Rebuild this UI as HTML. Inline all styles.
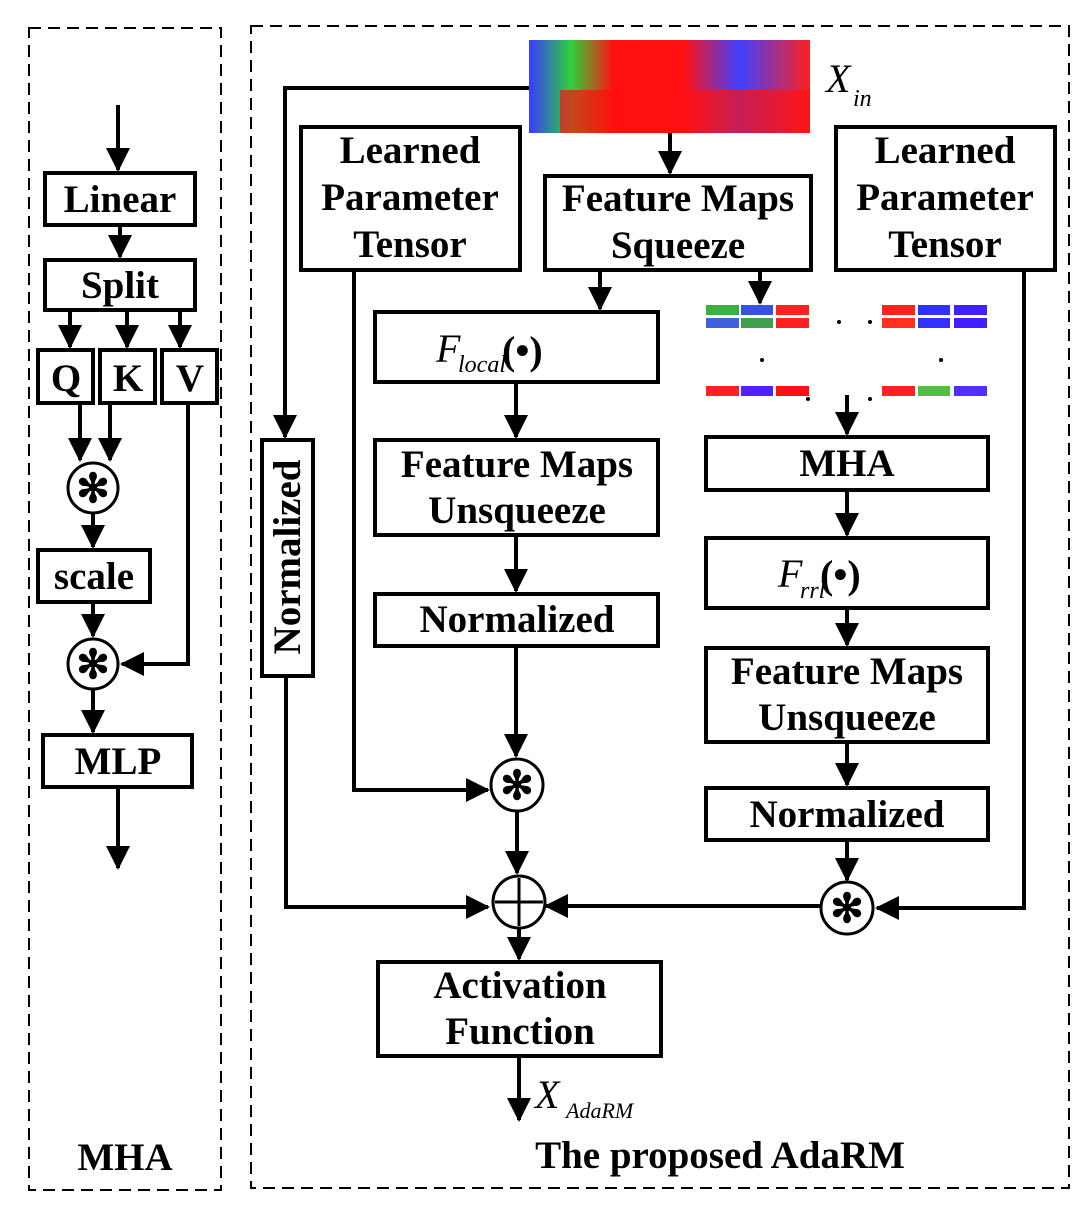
<!DOCTYPE html>
<html><head><style>body{margin:0;background:#fff}svg{display:block}text{font-family:"Liberation Serif",serif;font-weight:bold;fill:#000}</style></head><body>
<svg width="1087" height="1205" viewBox="0 0 1087 1205" xmlns="http://www.w3.org/2000/svg">
<defs>
<marker id="a" markerWidth="6" markerHeight="6" refX="5.5" refY="3" orient="auto" markerUnits="strokeWidth"><path d="M0,0 L6,3 L0,6 z" fill="#000"/></marker>
<linearGradient id="g1" x1="0" y1="0" x2="1" y2="0"><stop offset="0" stop-color="#3a3aff"/><stop offset="0.15" stop-color="#2fd03a"/><stop offset="0.3" stop-color="#ff1010"/><stop offset="0.55" stop-color="#ff1010"/><stop offset="0.75" stop-color="#4040ff"/><stop offset="1" stop-color="#ff2020"/></linearGradient>
</defs>
<g fill="none" stroke="#000" stroke-width="2" stroke-dasharray="12,7">
<rect x="29" y="28" width="192" height="1162"/>
<rect x="251" y="26" width="818" height="1162"/>
</g>
<g fill="#fff" stroke="#000" stroke-width="4">
<rect x="45" y="173" width="150" height="52"/>
<rect x="45" y="260" width="150" height="50"/>
<rect x="38" y="350" width="55" height="53"/>
<rect x="100" y="350" width="55" height="53"/>
<rect x="162" y="350" width="55" height="53"/>
<rect x="38" y="550" width="112" height="52"/>
<rect x="43" y="735" width="149" height="52"/>
<rect x="301" y="127" width="219" height="143"/>
<rect x="836" y="127" width="219" height="143"/>
<rect x="545" y="176" width="266" height="94"/>
<rect x="375" y="312" width="283" height="70"/>
<rect x="375" y="440" width="283" height="95"/>
<rect x="375" y="594" width="283" height="52"/>
<rect x="262" y="440" width="51" height="236"/>
<rect x="706" y="437" width="282" height="53"/>
<rect x="706" y="538" width="282" height="70"/>
<rect x="706" y="648" width="282" height="94"/>
<rect x="706" y="788" width="282" height="52"/>
<rect x="378" y="962" width="283" height="94"/>
</g>
<rect x="529" y="40" width="281" height="93" fill="url(#g1)"/>
<rect x="560" y="90" width="250" height="43" fill="#ff1010" opacity="0.7"/>
<g>
<rect x="706" y="305" width="33" height="10" fill="#3ab040"/><rect x="741" y="305" width="32" height="10" fill="#3a50e0"/><rect x="776" y="305" width="33" height="10" fill="#ff2020"/>
<rect x="706" y="318" width="33" height="10" fill="#4060e0"/><rect x="741" y="318" width="32" height="10" fill="#40a050"/><rect x="776" y="318" width="33" height="10" fill="#ff2020"/>
<rect x="882" y="305" width="33" height="10" fill="#ff2020"/><rect x="918" y="305" width="32" height="10" fill="#3030ff"/><rect x="954" y="305" width="33" height="10" fill="#4020ff"/>
<rect x="882" y="318" width="33" height="10" fill="#ff3020"/><rect x="918" y="318" width="32" height="10" fill="#3030ff"/><rect x="954" y="318" width="33" height="10" fill="#4020ff"/>
<rect x="706" y="386" width="33" height="10" fill="#ff2020"/><rect x="741" y="386" width="32" height="10" fill="#5020ff"/><rect x="776" y="386" width="33" height="10" fill="#ff1010"/>
<rect x="882" y="386" width="33" height="10" fill="#ff2020"/><rect x="918" y="386" width="32" height="10" fill="#50c040"/><rect x="954" y="386" width="33" height="10" fill="#5030ff"/>
</g>
<g fill="#000"><circle cx="839" cy="322" r="2"/><circle cx="870" cy="322" r="2"/><circle cx="762" cy="360" r="2"/><circle cx="941" cy="360" r="2"/><circle cx="808" cy="399" r="2"/><circle cx="870" cy="399" r="2"/></g>
<g fill="none" stroke="#000" stroke-width="4" marker-end="url(#a)">
<line x1="118" y1="105" x2="118" y2="170"/>
<line x1="120" y1="225" x2="120" y2="257"/>
<line x1="70" y1="310" x2="70" y2="347"/>
<line x1="127" y1="310" x2="127" y2="347"/>
<line x1="180" y1="310" x2="180" y2="347"/>
<line x1="80" y1="403" x2="80" y2="460"/>
<line x1="110" y1="403" x2="110" y2="460"/>
<line x1="93" y1="513" x2="93" y2="547"/>
<line x1="93" y1="602" x2="93" y2="636"/>
<polyline points="188,403 188,664 122,664"/>
<line x1="93" y1="689" x2="93" y2="732"/>
<line x1="118" y1="787" x2="118" y2="868"/>
<polyline points="529,88 285,88 285,437"/>
<line x1="670" y1="133" x2="670" y2="173"/>
<line x1="600" y1="270" x2="600" y2="309"/>
<line x1="760" y1="270" x2="760" y2="303"/>
<line x1="516" y1="382" x2="516" y2="437"/>
<line x1="516" y1="535" x2="516" y2="591"/>
<line x1="516" y1="646" x2="516" y2="756"/>
<polyline points="354,270 354,790 488,790"/>
<line x1="517" y1="811" x2="517" y2="873"/>
<polyline points="286,676 286,907 488,907"/>
<line x1="847" y1="395" x2="847" y2="434"/>
<line x1="847" y1="490" x2="847" y2="535"/>
<line x1="847" y1="608" x2="847" y2="645"/>
<line x1="847" y1="742" x2="847" y2="785"/>
<line x1="847" y1="840" x2="847" y2="880"/>
<polyline points="1024,270 1024,908 877,908"/>
<line x1="820" y1="906" x2="546" y2="906"/>
<line x1="519" y1="928" x2="519" y2="959"/>
<line x1="519" y1="1056" x2="519" y2="1120"/>
</g>
<g fill="#fff" stroke="#000" stroke-width="3">
<circle cx="93" cy="488" r="25"/><circle cx="93" cy="664" r="25"/>
<circle cx="517" cy="785" r="26"/><circle cx="847" cy="908" r="26"/><circle cx="519" cy="902" r="26"/>
</g>
<g stroke="#000" stroke-width="3"><line x1="519" y1="878" x2="519" y2="926"/><line x1="495" y1="902" x2="543" y2="902"/></g>
<g font-size="40" text-anchor="middle">
<text x="93" y="502">✻</text><text x="93" y="678">✻</text><text x="517" y="799">✻</text><text x="847" y="922">✻</text>
</g>
<g font-size="39" text-anchor="middle">
<text x="120" y="212">Linear</text>
<text x="120" y="298">Split</text>
<text x="66" y="391">Q</text><text x="128" y="391">K</text><text x="190" y="391">V</text>
<text x="94" y="589">scale</text>
<text x="118" y="774">MLP</text>
<text x="125" y="1170">MHA</text>
<text x="410" y="163">Learned</text><text x="410" y="210">Parameter</text><text x="410" y="257">Tensor</text>
<text x="945" y="163">Learned</text><text x="945" y="210">Parameter</text><text x="945" y="257">Tensor</text>
<text x="678" y="211">Feature Maps</text><text x="678" y="258">Squeeze</text>
<text x="517" y="477">Feature Maps</text><text x="517" y="523">Unsqueeze</text>
<text x="517" y="632">Normalized</text>
<text x="847" y="476">MHA</text>
<text x="847" y="684">Feature Maps</text><text x="847" y="730">Unsqueeze</text>
<text x="847" y="827">Normalized</text>
<text x="520" y="998">Activation</text><text x="520" y="1044">Function</text>
<text x="720" y="1168">The proposed AdaRM</text>
<text transform="translate(300,557) rotate(-90)">Normalized</text>
</g>
<g>
<text x="436" y="362" font-size="40" font-style="italic" style="font-weight:normal">F</text><text x="458" y="372" font-size="24" font-style="italic" style="font-weight:normal">local</text><text x="502" y="364" font-size="40">(•)</text>
<text x="778" y="587" font-size="40" font-style="italic" style="font-weight:normal">F</text><text x="800" y="598" font-size="24" font-style="italic" style="font-weight:normal">rrl</text><text x="820" y="588" font-size="40">(•)</text>
<text x="826" y="92" font-size="40" font-style="italic" style="font-weight:normal">X</text><text x="853" y="106" font-size="24" font-style="italic" style="font-weight:normal">in</text>
<text x="535" y="1108" font-size="40" font-style="italic" style="font-weight:normal">X</text><text x="566" y="1118" font-size="22" font-style="italic" style="font-weight:normal">AdaRM</text>
</g>
</svg>
</body></html>
